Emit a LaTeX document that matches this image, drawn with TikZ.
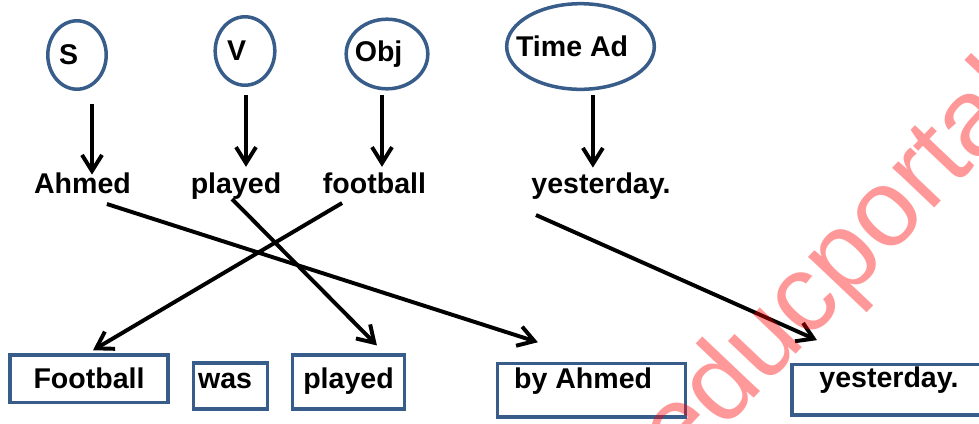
\documentclass[tikz,border=0pt]{standalone}
\usepackage{fontspec}
\setmainfont{Liberation Sans}
\usepackage{xcolor}
\usepackage{tikz}
\usetikzlibrary{shapes.geometric,arrows.meta}
\definecolor{frame}{HTML}{385D8A}

\begin{document}
\begin{tikzpicture}[x=0.025cm, y=-0.025cm, font=\fontsize{20.3}{24}\selectfont\bfseries,
		tag/.style={ellipse, draw=frame, line width=2.5pt, inner xsep=-0.35cm, inner ysep=0pt, execute at end node=\kern0.42cm},
		word/.style={anchor=base, inner sep=0pt},
		wbox/.style={draw=frame, line width=2.5pt, inner sep=0pt, anchor=base},
		arr/.style={line width=2.8pt, -{Straight Barb[length=0.4cm, width=0.5cm]}}]
						\clip (0,0) rectangle (979,423);
						\node[tag, minimum width=1.46cm, minimum height=1.71cm] (s) at (77,55) {S};
						\node[tag, minimum width=1.49cm, minimum height=1.71cm] (v) at (245,51) {V};
						\node[tag, minimum width=2.04cm, minimum height=1.74cm] (o) at (387,54) {Obj};
						\node[tag, minimum width=3.69cm, minimum height=2.14cm] (t) at (580.5,46.5) {Time Ad};
						\node[word] (ahm) at (82.5,193) {Ahmed};
						\node[word] (pla) at (236,193) {played};
						\node[word] (foo) at (374.5,193) {football};
						\node[word] (yes) at (601,193) {yesterday.};
						\node[wbox, minimum width=3.96cm, text height=0.83cm, text depth=0.36cm] (bfoo) at (89,388) {Football};
						\node[wbox, minimum width=1.84cm, text height=0.63cm, text depth=0.53cm] (bwas) at (230.5,388) {was\kern0.27cm};
						\node[wbox, minimum width=2.79cm, text height=0.83cm, text depth=0.53cm] (bpla) at (348.5,388) {played};
						\node[wbox, minimum width=4.69cm, text height=0.61cm, text depth=0.73cm] (bby) at (591.5,388) {by Ahmed\kern0.42cm};
						\node[wbox, minimum width=4.84cm, text height=0.57cm, text depth=0.69cm] (byes) at (889,387.5) {yesterday.};
						\draw[arr, shorten >=-0.065cm] ([xshift=0.375cm, yshift=-0.32cm]s.south) -- ([xshift=0.375cm]s.south |- ahm.north);
						\draw[arr, shorten >=0.13cm] ([xshift=0.025cm, yshift=-0.19cm]v.south) -- ([xshift=0.025cm]v.south |- pla.north);
						\draw[arr, shorten >=0.13cm] ([xshift=-0.125cm, yshift=-0.105cm]o.south) -- ([xshift=-0.125cm]o.south |- foo.north);
						\draw[arr, shorten >=0.11cm] ([xshift=0.31cm, yshift=-0.095cm]t.south) -- ([xshift=0.31cm]t.south |- yes.north);
						\draw[arr] ([xshift=0.61cm, yshift=-0.275cm]ahm.base) -- ([xshift=-1.34cm, yshift=0.49cm]bby.north);
						\draw[arr] ([xshift=-0.1cm, yshift=-0.15cm]pla.base) -- ([xshift=0.71cm, yshift=0.19cm]bpla.north);
						\draw[arr] ([xshift=-0.81cm, yshift=-0.25cm]foo.base) -- ([xshift=0.1cm, yshift=0.07cm]bfoo.north);
						\draw[arr] ([xshift=-1.625cm, yshift=-0.55cm]yes.base) -- ([xshift=-1.8cm, yshift=0.57cm]byes.north);
						\node[font=\fontsize{78}{90}\selectfont, text=red, text opacity=0.4, rotate=46.5, anchor=base, inner sep=0pt] (wm) at (858,289) {educportal};
					\end{tikzpicture}
\end{document}
